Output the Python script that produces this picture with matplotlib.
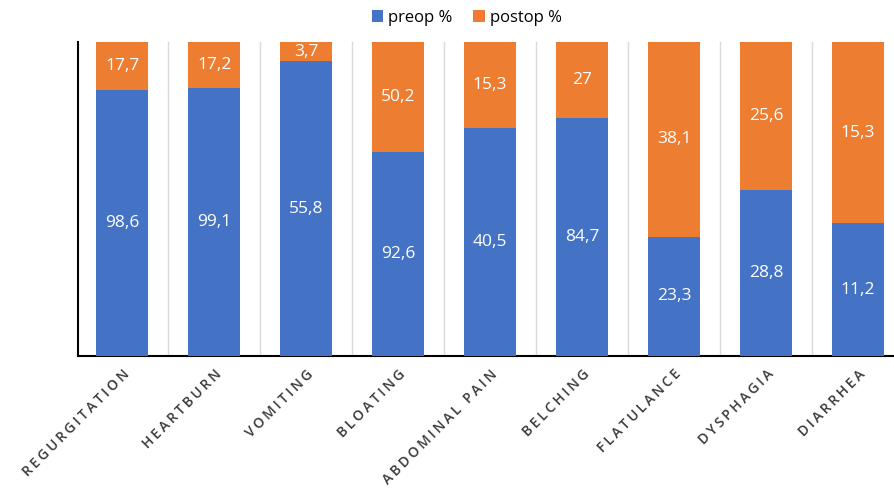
import numpy as np
import matplotlib
matplotlib.use("Agg")
import matplotlib.pyplot as plt

plt.rcParams['font.family'] = ['Open Sans', 'DejaVu Sans']

symptoms = ["REGURGITATION", "HEARTBURN", "VOMITING", "BLOATING", "ABDOMINAL PAIN",
            "BELCHING", "FLATULANCE", "DYSPHAGIA", "DIARRHEA"]
preop = [98.6, 99.1, 55.8, 92.6, 40.5, 84.7, 23.3, 28.8, 11.2]
postop = [17.7, 17.2, 3.7, 50.2, 15.3, 27, 38.1, 25.6, 15.3]

blue = "#4472C4"
orange = "#ED7D31"

pre = np.array(preop)
post = np.array(postop)
total = pre + post
pre_pct = pre / total * 100
post_pct = post / total * 100

fig = plt.figure(figsize=(8.94, 4.88), dpi=100)
ax = fig.add_axes([0.0872, 0.2705, 0.9128, 0.6435])

x = np.arange(len(symptoms))
b1 = ax.bar(x, pre_pct, width=0.565, color=blue, label="preop %", zorder=3)
b2 = ax.bar(x, post_pct, width=0.565, bottom=pre_pct, color=orange, label="postop %", zorder=3)

def fmt(v):
    s = f"{v:g}"
    return s.replace(".", ",")

for i in range(len(x)):
    ax.text(x[i], pre_pct[i] / 2, fmt(preop[i]), ha='center', va='center',
            color='white', fontsize=12.5, zorder=4)
    ax.text(x[i], pre_pct[i] + post_pct[i] / 2, fmt(postop[i]), ha='center', va='center',
            color='white', fontsize=12.5, zorder=4)

# light vertical separators between categories
for b in np.arange(0.5, len(x) - 1, 1.0):
    ax.axvline(b, color='#d9d9d9', lw=1, zorder=1)

ax.set_xlim(-0.48, 8.39)
ax.set_ylim(0, 100)
ax.set_yticks([])
ax.set_xticks(x)
# letter-spaced labels
spaced = ["\u2009".join(list(s)) for s in symptoms]
ax.set_xticklabels(spaced, rotation=45, ha='right', rotation_mode='anchor',
                   fontsize=10, color='#3a3a3a', fontweight='semibold')
ax.tick_params(axis='x', length=0, pad=8)

for s in ['top', 'right']:
    ax.spines[s].set_visible(False)
ax.spines['left'].set_linewidth(1.5)
ax.spines['bottom'].set_linewidth(1.5)

fig.legend(handles=[b1, b2], loc='center', bbox_to_anchor=(0.522, 0.963), ncol=2,
           frameon=False, handlelength=0.7, handleheight=0.7, handletextpad=0.3,
           columnspacing=1.2, fontsize=12)

fig.savefig("out.png", dpi=100)
